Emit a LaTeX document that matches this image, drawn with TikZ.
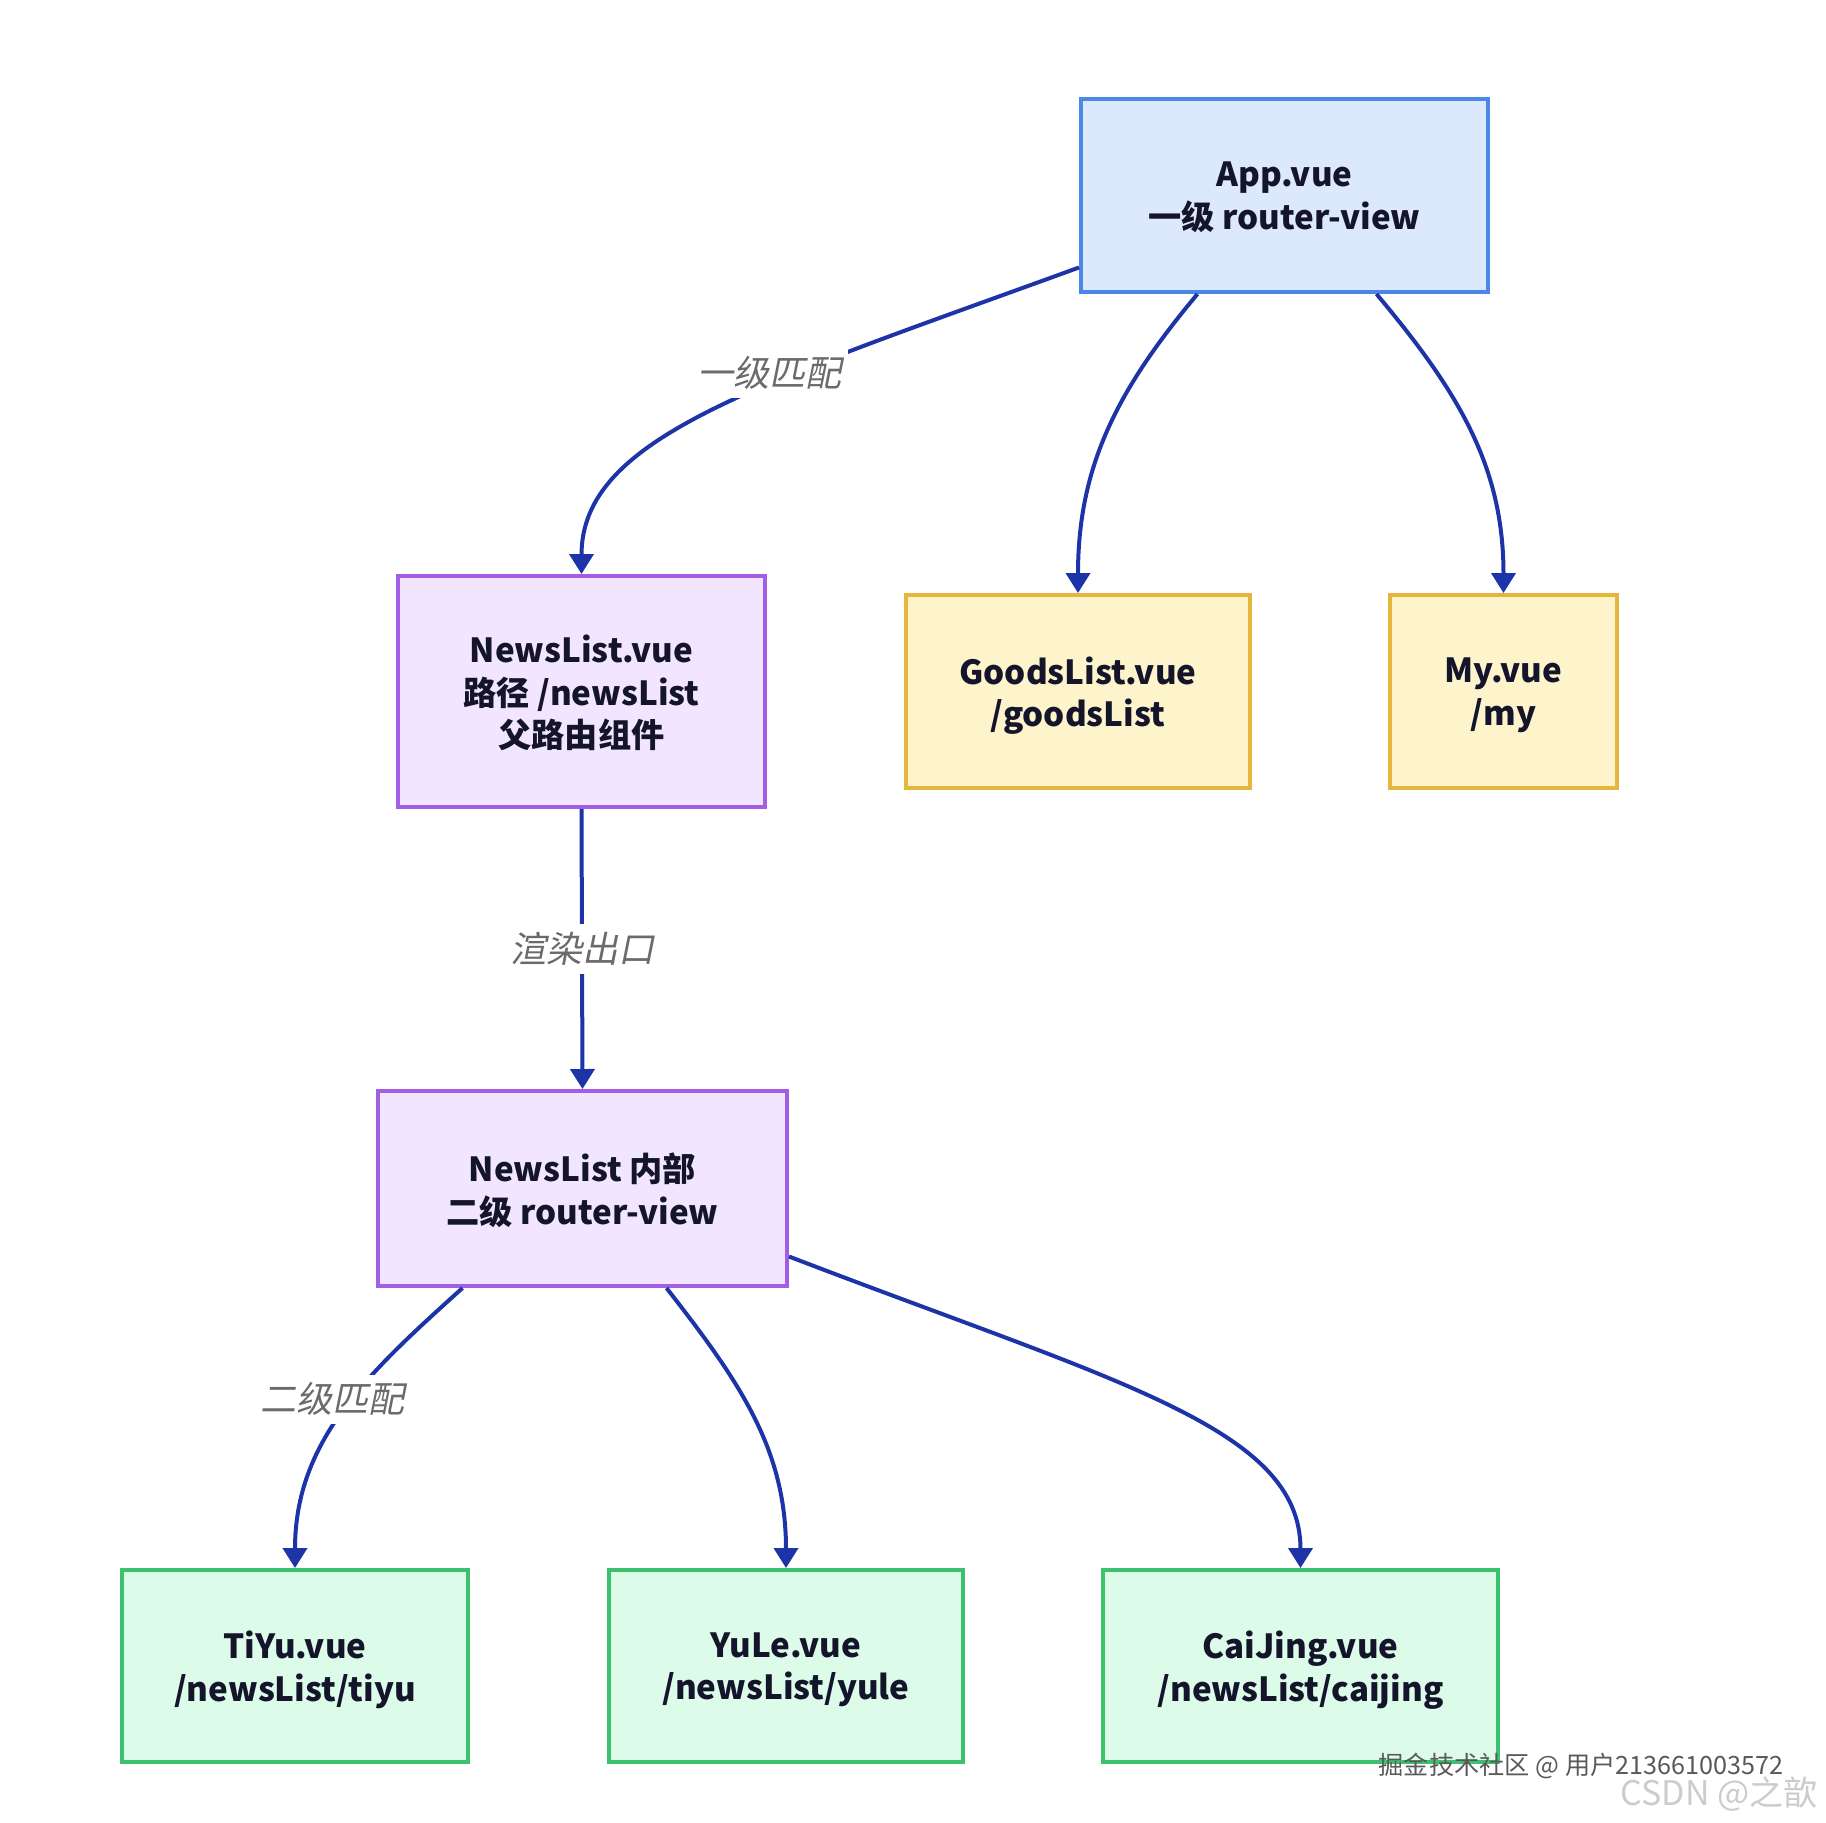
\documentclass[tikz,border=0pt]{standalone}
\usepackage{fontspec}
\setmainfont{Noto Sans CJK SC}
\newfontfamily\slantfont{Noto Sans CJK SC}[FakeSlant=0.2]
\usepackage{xcolor}
\usetikzlibrary{arrows.meta}

\definecolor{edgeblue}{HTML}{1C34A8}
\definecolor{textdark}{HTML}{14142B}
\definecolor{labelgray}{HTML}{6B6B6B}
\definecolor{appline}{HTML}{4A88E8}
\definecolor{appfill}{HTML}{DCE8FB}
\definecolor{newsline}{HTML}{A35EE6}
\definecolor{newsfill}{HTML}{F1E6FD}
\definecolor{pageline}{HTML}{E6B53C}
\definecolor{pagefill}{HTML}{FDF4CC}
\definecolor{subline}{HTML}{3CC26E}
\definecolor{subfill}{HTML}{DCFBE8}

\begin{document}
\begin{tikzpicture}[x=0.5pt, y=-0.5pt,
    box/.style={draw, line width=2pt, align=center, inner sep=0pt, text=textdark,
      font=\bfseries\fontsize{16.6}{21.2}\selectfont, text depth=-6pt},
    appbox/.style={box, draw=appline, fill=appfill},
    newsbox/.style={box, draw=newsline, fill=newsfill},
    pagebox/.style={box, draw=pageline, fill=pagefill},
    subbox/.style={box, draw=subline, fill=subfill},
    link/.style={draw=edgeblue, line width=2pt, -{Triangle[width=12pt,length=10pt]}},
    linklabel/.style={fill=white, text=labelgray, inner xsep=3pt, inner ysep=4pt,
      font=\slantfont\fontsize{18}{20}\selectfont},
    mark text/.style={inner sep=0pt}]
  \useasboundingbox (0,0) rectangle (1826,1822);

  % top level
  \node[appbox, minimum width=203.5pt, minimum height=96.5pt] (app) at (1284.5,195.5) {App.vue\\一级 router-view};
  \node[newsbox, minimum width=183.5pt, minimum height=115.5pt] (news) at (581.5,691.5) {NewsList.vue\\路径 /newsList\\父路由组件};
  \node[pagebox, minimum width=172pt, minimum height=96.5pt] (goods) at (1078,691.5) {GoodsList.vue\\/goodsList};
  \node[pagebox, minimum width=113.5pt, minimum height=96.5pt] (my) at (1503.5,691.5) {My.vue\\/my};

  % second level
  \node[newsbox, minimum width=204.5pt, minimum height=97.5pt] (inner) at (582.5,1188.5) {NewsList 内部\\二级 router-view};
  \node[subbox, minimum width=173pt, minimum height=96pt] (tiyu) at (295,1666) {TiYu.vue\\/newsList/tiyu};
  \node[subbox, minimum width=177pt, minimum height=96pt] (yule) at (786,1666) {YuLe.vue\\/newsList/yule};
  \node[subbox, minimum width=197.5pt, minimum height=96pt] (caijing) at (1300.5,1666) {CaiJing.vue\\/newsList/caijing};

  % connectors
  \draw[link] ([yshift=-36pt]app.west) to[out=200, in=90, out looseness=1.5, in looseness=0.6]
    node[linklabel, pos=0.35, xshift=-13pt] (m1) {一级匹配} (news.north);
  \draw[link] ([xshift=-43.5pt]app.south) to[out=-130, in=90] (goods.north);
  \draw[link] ([xshift=46pt]app.south) to[out=-50, in=90] (my.north);
  \draw[link] (news.south) -- node[linklabel] (m2) {渲染出口} (inner.north);
  \draw[link] ([xshift=-60pt]inner.south) to[out=-138, in=90]
    node[linklabel, pos=0.45, xshift=-10pt] (m3) {二级匹配} (tiyu.north);
  \draw[link] ([xshift=42pt]inner.south) to[out=-52, in=90] (yule.north);
  \draw[link] ([yshift=-34pt]inner.east) to[out=-21, in=90, out looseness=1.5, in looseness=0.6] (caijing.north);

  % watermarks
  \node[mark text, text=black!65, font=\fontsize{12.6}{13}\selectfont] (wm1) at (1581,1766) {掘金技术社区 @ 用户213661003572};
  \node[mark text, text=black!20, font=\fontsize{17}{18}\selectfont] (wm2) at (1719,1794) {CSDN @之歆};
\end{tikzpicture}
\end{document}
